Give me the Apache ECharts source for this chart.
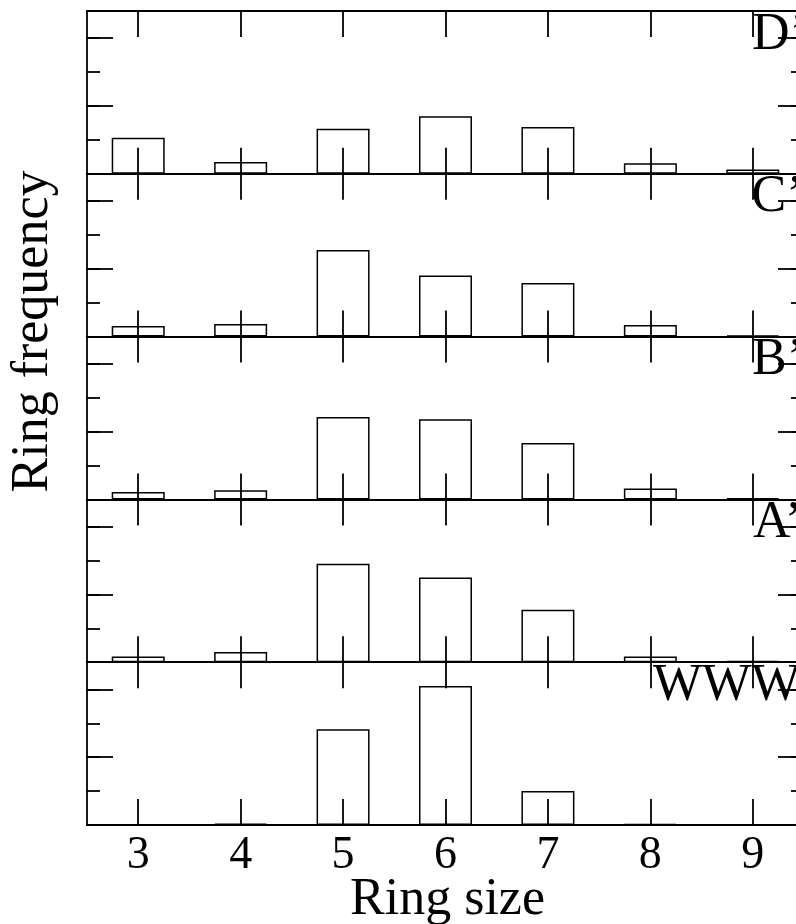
<!DOCTYPE html>
<html>
<head>
<meta charset="utf-8">
<script src="https://cdn.jsdelivr.net/npm/echarts@6/dist/echarts.min.js"></script>
<style>
  html, body { margin: 0; padding: 0; background: #fff; overflow: hidden; }
  /* the drawing surface is a little wider than the window; the right frame edge falls outside */
  #chart { width: 812px; height: 924px; }
</style>
</head>
<body>
<div id="chart"></div>
<script>
// Ring sizes on the x axis
const ringSizes = ['3', '4', '5', '6', '7', '8', '9'];

// Panel names, top to bottom
const panelNames = ['D’', 'C’', 'B’', 'A’', 'WWW'];

// Ring frequency per ring size, one array per panel
const freqD = [0.106, 0.035, 0.133, 0.170, 0.138, 0.031, 0.013];
const freqC = [0.031, 0.037, 0.255, 0.180, 0.158, 0.034, 0.004];
const freqB = [0.022, 0.027, 0.243, 0.236, 0.166, 0.032, 0.004];
const freqA = [0.017, 0.030, 0.290, 0.250, 0.155, 0.017, 0.004];
const freqW = [0.000, 0.004, 0.282, 0.410, 0.100, 0.003, 0.000];

const panelData = [freqD, freqC, freqB, freqA, freqW];

// Layout
const plotLeft = 87;
const plotWidth = 717;
const firstTop = 11;
const panelHeight = 162.8;
const yMax = 0.48;
const serif = 'Liberation Serif';
const labelLeft = [752, 751.5, 752, 753, 653];

const lineStyle = { color: '#000', width: 1.8 };

const grids = [], xAxes = [], yAxes = [], series = [], graphics = [];

panelData.forEach((values, i) => {
  const top = firstTop + i * panelHeight;
  const isLast = i === panelData.length - 1;
  grids.push({ left: plotLeft, width: plotWidth, top: top, height: panelHeight, containLabel: false });

  ['bottom', 'top'].forEach(pos => {
    xAxes.push({
      type: 'category', gridIndex: i, position: pos, data: ringSizes, boundaryGap: true,
      axisLine: { show: true, onZero: false, lineStyle: lineStyle },
      axisTick: { show: true, inside: true, alignWithLabel: true, length: 26, lineStyle: lineStyle },
      axisLabel: {
        show: isLast && pos === 'bottom', margin: 8, color: '#000',
        fontFamily: serif, fontSize: 46
      },
      splitLine: { show: false }
    });
  });

  ['left', 'right'].forEach(pos => {
    // major ticks
    yAxes.push({
      type: 'value', gridIndex: i, position: pos, min: 0, max: yMax, interval: 0.2,
      axisLine: { show: true, lineStyle: lineStyle },
      axisTick: { show: true, inside: true, length: 26, lineStyle: lineStyle },
      axisLabel: { show: false }, splitLine: { show: false }
    });
    // minor ticks
    yAxes.push({
      type: 'value', gridIndex: i, position: pos, min: 0, max: yMax, interval: 0.1,
      axisLine: { show: false },
      axisTick: { show: true, inside: true, length: 13, lineStyle: lineStyle },
      axisLabel: { show: false }, splitLine: { show: false }
    });
  });

  series.push({
    type: 'bar', xAxisIndex: 2 * i, yAxisIndex: 4 * i, data: values, barWidth: 53,
    itemStyle: { color: 'rgba(255,255,255,0)', borderColor: '#000', borderWidth: 1.5 },
    z: 1, silent: true
  });

  graphics.push({
    type: 'text', left: labelLeft[i], top: top + 24 - 26,
    style: { text: panelNames[i], font: '52px "' + serif + '"', fill: '#000', textVerticalAlign: 'top' }
  });
});

// Axis titles
graphics.push({
  type: 'text', x: 447.5, y: 900,
  style: { text: 'Ring size', font: '52px "' + serif + '"', fill: '#000', textAlign: 'center', textVerticalAlign: 'middle' }
});
graphics.push({
  type: 'text', x: 33, y: 331.5, rotation: Math.PI / 2,
  style: { text: 'Ring frequency', font: '52px "' + serif + '"', fill: '#000', textAlign: 'center', textVerticalAlign: 'middle' }
});

const chart = echarts.init(document.getElementById('chart'), null, { renderer: 'canvas' });
chart.setOption({
  animation: false,
  backgroundColor: '#fff',
  grid: grids,
  xAxis: xAxes,
  yAxis: yAxes,
  series: series,
  graphic: graphics
});
</script>
</body>
</html>
